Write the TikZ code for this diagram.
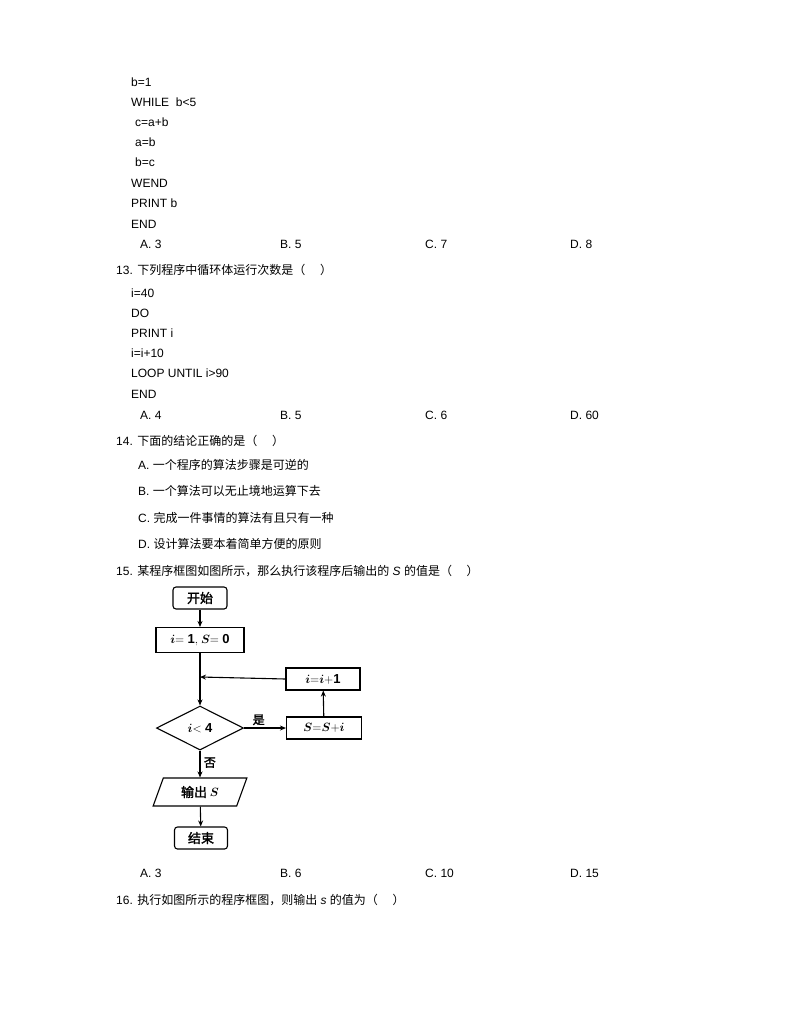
\documentclass[tikz,border=0pt]{standalone}
\usepackage{fontspec}
\usepackage{bm}
\setmainfont{Liberation Sans}
\newfontfamily\cjk{Noto Sans CJK SC}
\newfontfamily\cjkb[FakeBold=2]{Noto Sans CJK SC}
\usetikzlibrary{shapes.geometric,arrows.meta}
\begin{document}
\begin{tikzpicture}[x=1pt,y=-1pt,
  t/.style={anchor=west,inner sep=0pt,font=\fontsize{12}{14}\selectfont},
  box/.style={draw,line width=1.1pt,minimum height=22pt,font=\fontsize{13}{15}\selectfont\cjkb},
  rbox/.style={box,rounded corners=3pt},
  ar/.style={-{Stealth[length=6pt,width=5pt]},line width=1.1pt}]
\useasboundingbox (0,0) rectangle (794,1028);
\node[t] (l1) at (131,82) {b=1};
\node[t] (l2) at (131,102) {WHILE\ \ b<5};
\node[t] (l3) at (135,122) {c=a+b};
\node[t] (l4) at (135,142) {a=b};
\node[t] (l5) at (135,162) {b=c};
\node[t] (l6) at (131,183) {WEND};
\node[t] (l7) at (131,203) {PRINT b};
\node[t] (l8) at (131,224) {END};
\node[t] (o1a) at (140,244) {A. 3};
\node[t] (o1b) at (280,244) {B. 5};
\node[t] (o1c) at (425,244) {C. 7};
\node[t] (o1d) at (570,244) {D. 8};
\node[t] (q13) at (116,270) {13. \cjk 下列程序中循环体运行次数是（\quad\ ）};
\node[t] (m1) at (131,293) {i=40};
\node[t] (m2) at (131,313) {DO};
\node[t] (m3) at (131,333) {PRINT i};
\node[t] (m4) at (131,353) {i=i+10};
\node[t] (m5) at (131,373) {LOOP UNTIL i>90};
\node[t] (m6) at (131,394) {END};
\node[t] (o2a) at (140,415) {A. 4};
\node[t] (o2b) at (280,415) {B. 5};
\node[t] (o2c) at (425,415) {C. 6};
\node[t] (o2d) at (570,415) {D. 60};
\node[t] (q14) at (116,441) {14. \cjk 下面的结论正确的是（\quad\ ）};
\node[t] (c1) at (138,465) {A. \cjk 一个程序的算法步骤是可逆的};
\node[t] (c2) at (138,491) {B. \cjk 一个算法可以无止境地运算下去};
\node[t] (c3) at (138,518) {C. \cjk 完成一件事情的算法有且只有一种};
\node[t] (c4) at (138,544) {D. \cjk 设计算法要本着简单方便的原则};
\node[t] (q15) at (116,571) {15. {\cjk 某程序框图如图所示，那么执行该程序后输出的} \textit{S} {\cjk 的值是（\quad\ ）}};
% flowchart
\node[rbox,minimum width=54pt] (st) at (200,598) {开始};
\node[box,minimum width=88pt,minimum height=25pt] (init) at (200,640) {$\bm{i}\mathbf{=1,}\ \bm{S}\mathbf{=0}$};
\node[draw,diamond,line width=1.1pt,minimum width=87pt,minimum height=44pt,aspect=2,inner sep=0pt,font=\fontsize{13}{15}\selectfont] (dec) at (200,728) {$\bm{i}\mathbf{<4}$};
\node[box,minimum width=75pt] (s) at (324,728) {$\bm{S}\mathbf{=}\bm{S}\mathbf{+}\bm{i}$};
\node[box,minimum width=74pt] (inc) at (323,679) {$\bm{i}\mathbf{=}\bm{i}\mathbf{+1}$};
\node[draw,trapezium,trapezium left angle=70,trapezium right angle=110,line width=1.1pt,minimum width=80pt,minimum height=28pt,inner sep=2pt,font=\fontsize{13}{15}\selectfont\cjkb] (out) at (200,792) {输出 $\bm{S}$};
\node[rbox,minimum width=53pt] (end) at (201,838) {结束};
\coordinate (mg) at (200,677);
\draw[ar] (st) -- (init);
\draw[line width=1.1pt] (init) -- (mg);
\draw[ar] (mg) -- (dec);
\draw[ar] (dec) -- node[above,pos=0.35,font=\fontsize{12}{14}\selectfont\cjkb,yshift=-1pt] (yes) {是} (s);
\draw[ar] (s) -- (inc);
\draw[ar] (inc.west) -- (mg);
\draw[ar] (dec) -- node[right,pos=0.45,font=\fontsize{12}{14}\selectfont\cjkb] (no) {否} (out);
\draw[ar] (out) -- (end);
\node[t] (o3a) at (140,873) {A. 3};
\node[t] (o3b) at (280,873) {B. 6};
\node[t] (o3c) at (425,873) {C. 10};
\node[t] (o3d) at (570,873) {D. 15};
\node[t] (q16) at (116,900) {16. {\cjk 执行如图所示的程序框图，则输出} \textit{s} {\cjk 的值为（\quad\ ）}};
\end{tikzpicture}
\end{document}
